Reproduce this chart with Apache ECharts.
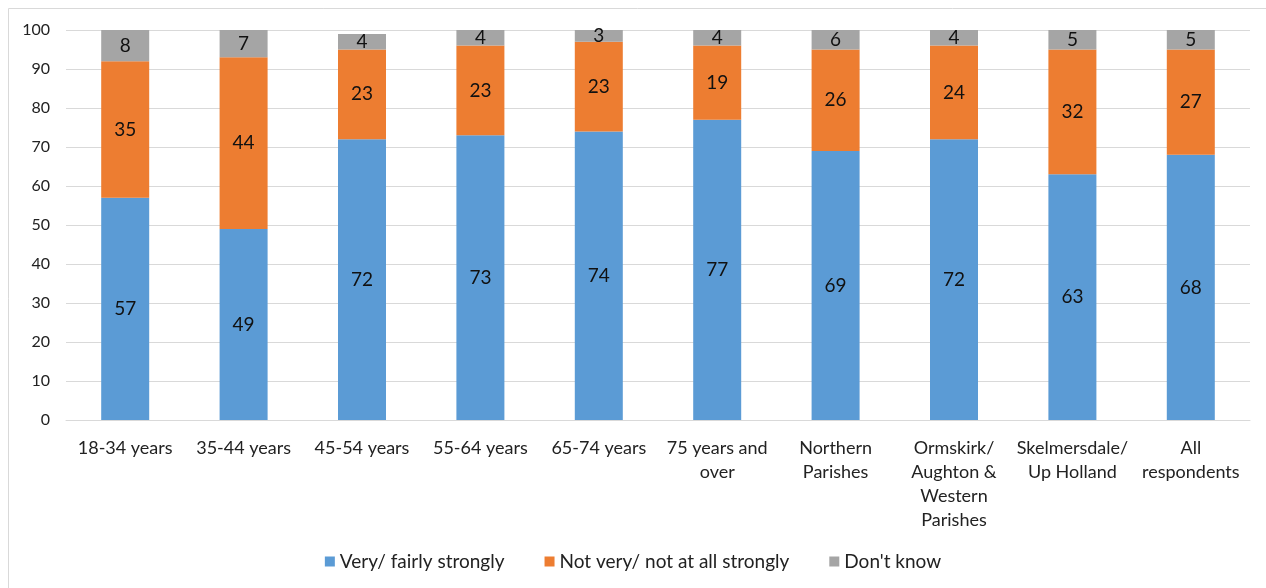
<!DOCTYPE html>
<html>
<head>
<meta charset="utf-8">
<script src="https://cdn.jsdelivr.net/npm/echarts@6/dist/echarts.min.js"></script>
<style>
  html, body { margin: 0; padding: 0; background: #fff; }
  #chart { width: 1266px; height: 588px; }
</style>
</head>
<body>
<div id="chart"></div>
<script>
const categories = [
  '18-34 years', '35-44 years', '45-54 years', '55-64 years', '65-74 years',
  '75 years and\nover', 'Northern\nParishes', 'Ormskirk/\nAughton &\nWestern\nParishes',
  'Skelmersdale/\nUp Holland', 'All\nrespondents'
];
const strongly = [57, 49, 72, 73, 74, 77, 69, 72, 63, 68];
const notStrongly = [35, 44, 23, 23, 23, 19, 26, 24, 32, 27];
const dontKnow = [8, 7, 4, 4, 3, 4, 6, 4, 5, 5];
const yTicks = [0, 10, 20, 30, 40, 50, 60, 70, 80, 90, 100];

const FONT = 'Lato, "Open Sans", sans-serif';
const chart = echarts.init(document.getElementById('chart'));

function barSeries(name, data, color) {
  return {
    name: name,
    type: 'bar',
    stack: 'total',
    data: data,
    barWidth: 48,
    itemStyle: { color: color },
    label: {
      show: true,
      position: 'inside',
      color: '#111',
      fontFamily: FONT,
      fontSize: 19
    }
  };
}

chart.setOption({
  animation: false,
  graphic: [{
    type: 'rect',
    shape: { x: 8.5, y: 8.5, width: 1280, height: 600 },
    style: { fill: 'none', stroke: '#d9d9d9', lineWidth: 1 },
    z: -1
  }],
  grid: { left: 66, right: 16, top: 30, bottom: 168, containLabel: false },
  legend: {
    bottom: 12,
    left: 'center',
    itemWidth: 10,
    itemHeight: 10,
    itemGap: 40,
    icon: 'rect',
    textStyle: { fontFamily: FONT, fontSize: 19, color: '#222' },
    data: ['Very/ fairly strongly', 'Not very/ not at all strongly', "Don't know"]
  },
  xAxis: {
    type: 'category',
    data: categories,
    axisLine: { lineStyle: { color: '#d9d9d9' } },
    axisTick: { show: false },
    axisLabel: {
      interval: 0,
      margin: 16,
      fontFamily: FONT,
      fontSize: 18,
      color: '#222',
      lineHeight: 24
    }
  },
  yAxis: {
    type: 'value',
    min: yTicks[0],
    max: yTicks[yTicks.length - 1],
    interval: 10,
    axisLine: { show: false },
    axisTick: { show: false },
    splitLine: { lineStyle: { color: '#d9d9d9' } },
    axisLabel: { fontFamily: FONT, fontSize: 16, color: '#222', margin: 16 }
  },
  series: [
    barSeries('Very/ fairly strongly', strongly, '#5b9bd5'),
    barSeries('Not very/ not at all strongly', notStrongly, '#ed7d31'),
    barSeries("Don't know", dontKnow, '#a5a5a5')
  ]
});
</script>
</body>
</html>
